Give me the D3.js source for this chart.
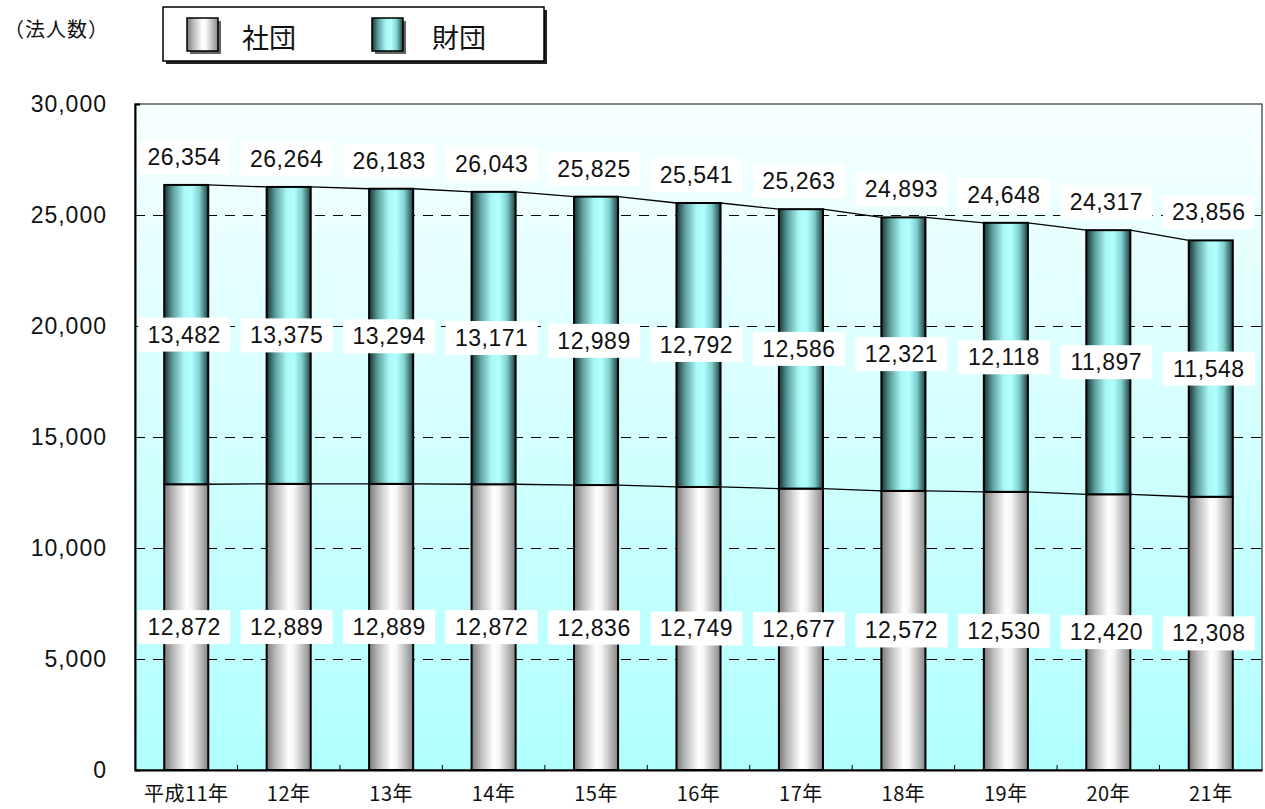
<!DOCTYPE html>
<html><head><meta charset="utf-8">
<script src="https://cdn.jsdelivr.net/npm/d3@7"></script>
<style>body{margin:0;background:#fff;}svg{display:block;}</style>
</head><body>
<svg id="c" width="1265" height="809"></svg>
<script>
const years = ["平成11年","12年","13年","14年","15年","16年","17年","18年","19年","20年","21年"];
const shadan = [12872,12889,12889,12872,12836,12749,12677,12572,12530,12420,12308];
const zaidan = [13482,13375,13294,13171,12989,12792,12586,12321,12118,11897,11548];
const totals = [26354,26264,26183,26043,25825,25541,25263,24893,24648,24317,23856];
const yTicks = [0,5000,10000,15000,20000,25000,30000];
const seriesNames = ["社団","財団"];
const unitLabel = "（法人数）";

const svg = d3.select("#c");
const L=135,R=1262,T=104,B=770;
const numFont = "'Liberation Sans', Arial, sans-serif";
const jpFont = "'Noto Sans CJK JP', sans-serif";
const fmt = d3.format(",");

const defs = svg.append("defs");
const bg = defs.append("linearGradient").attr("id","bg").attr("x1",0).attr("y1",0).attr("x2",0).attr("y2",1);
bg.append("stop").attr("offset",0).attr("stop-color","#f7ffff");
bg.append("stop").attr("offset",1).attr("stop-color","#b0ffff");
const gS = defs.append("linearGradient").attr("id","gS").attr("x1",0).attr("x2",1).attr("y1",0).attr("y2",0);
[[0,"#7a7a7a"],[0.2,"#b8b8b8"],[0.5,"#ffffff"],[0.62,"#f6f6f6"],[0.85,"#b4b4b4"],[1,"#858585"]].forEach(s=>gS.append("stop").attr("offset",s[0]).attr("stop-color",s[1]));
const gZ = defs.append("linearGradient").attr("id","gZ").attr("x1",0).attr("x2",1).attr("y1",0).attr("y2",0);
[[0,"#173333"],[0.2,"#5fa0a0"],[0.45,"#aaf7f7"],[0.62,"#b2ffff"],[0.8,"#80d0d0"],[1,"#1f3d3d"]].forEach(s=>gZ.append("stop").attr("offset",s[0]).attr("stop-color",s[1]));

const x = d3.scaleBand().domain(years).range([L,R]).paddingInner(0.57).paddingOuter(0.285);
const y = d3.scaleLinear().domain([0,30000]).range([B,T]);

// plot background
svg.append("rect").attr("x",L).attr("y",T).attr("width",R-L).attr("height",B-T).attr("fill","url(#bg)").attr("stroke","#333").attr("stroke-width",1.2);

// gridlines
svg.append("g").selectAll("line").data(yTicks.filter(v=>v>0&&v<30000)).join("line")
  .attr("x1",L).attr("x2",R).attr("y1",d=>Math.round(y(d))+0.5).attr("y2",d=>Math.round(y(d))+0.5)
  .attr("stroke","#000").attr("stroke-width",1).attr("stroke-dasharray","10,8");

// y axis
const ya = svg.append("g").attr("transform",`translate(${L},0)`).call(d3.axisLeft(y).tickValues(yTicks).tickSize(-5).tickPadding(28).tickFormat(fmt));
ya.select(".domain").attr("stroke","#000").attr("stroke-width",2);
ya.selectAll("text").attr("font-family",numFont).attr("font-size",23).attr("fill","#111").attr("letter-spacing","1px");

// x axis
const xa = svg.append("g").attr("transform",`translate(0,${B})`).call(d3.axisBottom(x).tickSize(0).tickPadding(20));
xa.select(".domain").attr("stroke","#000").attr("stroke-width",2);
xa.selectAll("text").attr("font-family",jpFont).attr("font-size",20).attr("letter-spacing","0.5px").attr("fill","#111").attr("dy","0.55em");
// band boundary ticks
svg.append("g").selectAll("line").data(d3.range(1,years.length)).join("line")
  .attr("x1",i=>L+x.step()*i).attr("x2",i=>L+x.step()*i).attr("y1",B).attr("y2",B-5)
  .attr("stroke","#000").attr("stroke-width",1);

// bars
const bw = x.bandwidth();
svg.append("g").selectAll("rect").data(years).join("rect")
  .attr("x",d=>x(d)).attr("width",bw)
  .attr("y",(d,i)=>y(shadan[i])).attr("height",(d,i)=>B-y(shadan[i]))
  .attr("fill","url(#gS)").attr("stroke","#000").attr("stroke-width",2);
svg.append("g").selectAll("rect").data(years).join("rect")
  .attr("x",d=>x(d)).attr("width",bw)
  .attr("y",(d,i)=>y(shadan[i]+zaidan[i])).attr("height",(d,i)=>y(shadan[i])-y(shadan[i]+zaidan[i]))
  .attr("fill","url(#gZ)").attr("stroke","#000").attr("stroke-width",2);

// series lines
const segs = (arr)=>d3.range(years.length-1).map(i=>[x(years[i])+bw, y(arr[i]), x(years[i+1]), y(arr[i+1])]);
[shadan, totals].forEach(arr=>{
  svg.append("g").selectAll("line").data(segs(arr)).join("line")
    .attr("x1",d=>d[0]).attr("y1",d=>d[1]).attr("x2",d=>d[2]).attr("y2",d=>d[3])
    .attr("stroke","#000").attr("stroke-width",1.3);
});

// labels
function labels(vals, ypos){
  const g = svg.append("g");
  years.forEach((yr,i)=>{
    const cx = x(yr)+bw/2-2, cy = ypos(i);
    g.append("rect").attr("x",cx-46).attr("y",cy-17).attr("width",92).attr("height",34).attr("fill","#fff");
    g.append("text").attr("x",cx).attr("y",cy).attr("text-anchor","middle").attr("dominant-baseline","central")
      .attr("font-family",numFont).attr("font-size",23).attr("letter-spacing","0.5px").attr("fill","#111").text(fmt(vals[i]));
  });
}
labels(shadan, i=>y(shadan[i]/2));
labels(zaidan, i=>y(shadan[i]+zaidan[i]/2));
labels(totals, i=>y(totals[i])-28);

// unit label
svg.append("text").attr("x",4).attr("y",28).attr("dominant-baseline","central").attr("font-family",jpFont).attr("font-size",20).attr("letter-spacing","1px").attr("fill","#111").text(unitLabel);

// legend
const lg = svg.append("g");
lg.append("rect").attr("x",166).attr("y",10).attr("width",381).attr("height",54).attr("fill","#222");
lg.append("rect").attr("x",163).attr("y",7).attr("width",381).attr("height",54).attr("fill","#fff").attr("stroke","#000").attr("stroke-width",1.5);
const legItems = [{n:seriesNames[0],g:"url(#gS)",sx:187,tx:242},{n:seriesNames[1],g:"url(#gZ)",sx:372,tx:432}];
legItems.forEach(it=>{
  lg.append("rect").attr("x",it.sx+3).attr("y",21).attr("width",31).attr("height",33).attr("fill","#666");
  lg.append("rect").attr("x",it.sx).attr("y",18).attr("width",31).attr("height",33).attr("fill",it.g).attr("stroke","#000").attr("stroke-width",1.5);
  lg.append("text").attr("x",it.tx).attr("y",36).attr("dominant-baseline","central").attr("font-family",jpFont).attr("font-size",27).attr("fill","#111").text(it.n);
});
</script>
</body></html>
